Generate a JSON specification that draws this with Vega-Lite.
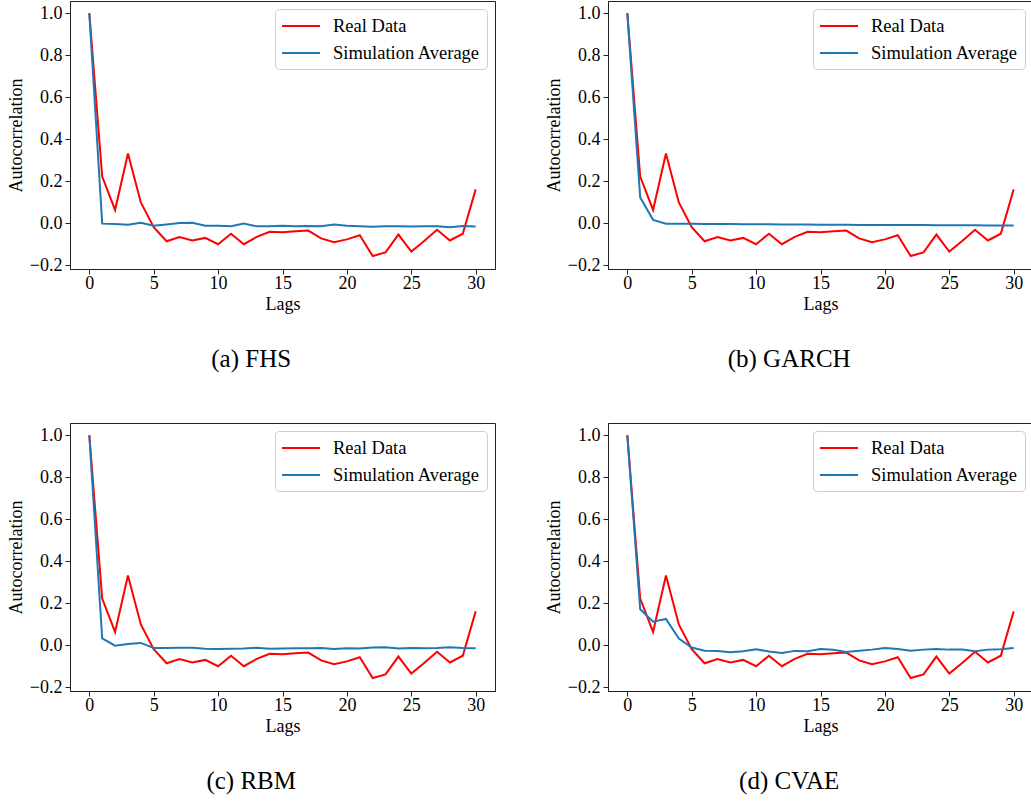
{
  "$schema": "https://vega.github.io/schema/vega-lite/v6.json",
  "padding": {"left": 6, "top": 0, "right": 0, "bottom": 0},
  "background": "white",
  "datasets": {
    "real": [
      {"lag": 0, "value": 1.0}, {"lag": 1, "value": 0.222}, {"lag": 2, "value": 0.063}, {"lag": 3, "value": 0.332},
      {"lag": 4, "value": 0.099}, {"lag": 5, "value": -0.019}, {"lag": 6, "value": -0.086}, {"lag": 7, "value": -0.066},
      {"lag": 8, "value": -0.082}, {"lag": 9, "value": -0.070}, {"lag": 10, "value": -0.100}, {"lag": 11, "value": -0.050},
      {"lag": 12, "value": -0.100}, {"lag": 13, "value": -0.065}, {"lag": 14, "value": -0.041}, {"lag": 15, "value": -0.043},
      {"lag": 16, "value": -0.038}, {"lag": 17, "value": -0.035}, {"lag": 18, "value": -0.072}, {"lag": 19, "value": -0.091},
      {"lag": 20, "value": -0.077}, {"lag": 21, "value": -0.057}, {"lag": 22, "value": -0.156}, {"lag": 23, "value": -0.139},
      {"lag": 24, "value": -0.054}, {"lag": 25, "value": -0.135}, {"lag": 26, "value": -0.085}, {"lag": 27, "value": -0.031},
      {"lag": 28, "value": -0.082}, {"lag": 29, "value": -0.050}, {"lag": 30, "value": 0.161}
    ],
    "sim": [
      {"panel": "FHS", "lag": 0, "value": 1.0}, {"panel": "FHS", "lag": 1, "value": -0.002}, {"panel": "FHS", "lag": 2, "value": -0.004},
      {"panel": "FHS", "lag": 3, "value": -0.007}, {"panel": "FHS", "lag": 4, "value": 0.002}, {"panel": "FHS", "lag": 5, "value": -0.012},
      {"panel": "FHS", "lag": 6, "value": -0.006}, {"panel": "FHS", "lag": 7, "value": 0.001}, {"panel": "FHS", "lag": 8, "value": 0.002},
      {"panel": "FHS", "lag": 9, "value": -0.012}, {"panel": "FHS", "lag": 10, "value": -0.012}, {"panel": "FHS", "lag": 11, "value": -0.014},
      {"panel": "FHS", "lag": 12, "value": -0.002}, {"panel": "FHS", "lag": 13, "value": -0.015}, {"panel": "FHS", "lag": 14, "value": -0.014},
      {"panel": "FHS", "lag": 15, "value": -0.012}, {"panel": "FHS", "lag": 16, "value": -0.015}, {"panel": "FHS", "lag": 17, "value": -0.013},
      {"panel": "FHS", "lag": 18, "value": -0.014}, {"panel": "FHS", "lag": 19, "value": -0.006}, {"panel": "FHS", "lag": 20, "value": -0.012},
      {"panel": "FHS", "lag": 21, "value": -0.014}, {"panel": "FHS", "lag": 22, "value": -0.017}, {"panel": "FHS", "lag": 23, "value": -0.015},
      {"panel": "FHS", "lag": 24, "value": -0.015}, {"panel": "FHS", "lag": 25, "value": -0.016}, {"panel": "FHS", "lag": 26, "value": -0.015},
      {"panel": "FHS", "lag": 27, "value": -0.015}, {"panel": "FHS", "lag": 28, "value": -0.019}, {"panel": "FHS", "lag": 29, "value": -0.013},
      {"panel": "FHS", "lag": 30, "value": -0.016},

      {"panel": "GARCH", "lag": 0, "value": 1.0}, {"panel": "GARCH", "lag": 1, "value": 0.123}, {"panel": "GARCH", "lag": 2, "value": 0.016},
      {"panel": "GARCH", "lag": 3, "value": -0.002}, {"panel": "GARCH", "lag": 4, "value": -0.003}, {"panel": "GARCH", "lag": 5, "value": -0.003},
      {"panel": "GARCH", "lag": 6, "value": -0.004}, {"panel": "GARCH", "lag": 7, "value": -0.004}, {"panel": "GARCH", "lag": 8, "value": -0.004},
      {"panel": "GARCH", "lag": 9, "value": -0.005}, {"panel": "GARCH", "lag": 10, "value": -0.005}, {"panel": "GARCH", "lag": 11, "value": -0.005},
      {"panel": "GARCH", "lag": 12, "value": -0.006}, {"panel": "GARCH", "lag": 13, "value": -0.006}, {"panel": "GARCH", "lag": 14, "value": -0.006},
      {"panel": "GARCH", "lag": 15, "value": -0.007}, {"panel": "GARCH", "lag": 16, "value": -0.007}, {"panel": "GARCH", "lag": 17, "value": -0.007},
      {"panel": "GARCH", "lag": 18, "value": -0.008}, {"panel": "GARCH", "lag": 19, "value": -0.008}, {"panel": "GARCH", "lag": 20, "value": -0.008},
      {"panel": "GARCH", "lag": 21, "value": -0.009}, {"panel": "GARCH", "lag": 22, "value": -0.009}, {"panel": "GARCH", "lag": 23, "value": -0.009},
      {"panel": "GARCH", "lag": 24, "value": -0.010}, {"panel": "GARCH", "lag": 25, "value": -0.010}, {"panel": "GARCH", "lag": 26, "value": -0.010},
      {"panel": "GARCH", "lag": 27, "value": -0.010}, {"panel": "GARCH", "lag": 28, "value": -0.011}, {"panel": "GARCH", "lag": 29, "value": -0.011},
      {"panel": "GARCH", "lag": 30, "value": -0.011},

      {"panel": "RBM", "lag": 0, "value": 1.0}, {"panel": "RBM", "lag": 1, "value": 0.032}, {"panel": "RBM", "lag": 2, "value": -0.002},
      {"panel": "RBM", "lag": 3, "value": 0.006}, {"panel": "RBM", "lag": 4, "value": 0.011}, {"panel": "RBM", "lag": 5, "value": -0.013},
      {"panel": "RBM", "lag": 6, "value": -0.013}, {"panel": "RBM", "lag": 7, "value": -0.012}, {"panel": "RBM", "lag": 8, "value": -0.012},
      {"panel": "RBM", "lag": 9, "value": -0.017}, {"panel": "RBM", "lag": 10, "value": -0.018}, {"panel": "RBM", "lag": 11, "value": -0.017},
      {"panel": "RBM", "lag": 12, "value": -0.016}, {"panel": "RBM", "lag": 13, "value": -0.012}, {"panel": "RBM", "lag": 14, "value": -0.017},
      {"panel": "RBM", "lag": 15, "value": -0.016}, {"panel": "RBM", "lag": 16, "value": -0.015}, {"panel": "RBM", "lag": 17, "value": -0.014},
      {"panel": "RBM", "lag": 18, "value": -0.013}, {"panel": "RBM", "lag": 19, "value": -0.018}, {"panel": "RBM", "lag": 20, "value": -0.014},
      {"panel": "RBM", "lag": 21, "value": -0.016}, {"panel": "RBM", "lag": 22, "value": -0.011}, {"panel": "RBM", "lag": 23, "value": -0.010},
      {"panel": "RBM", "lag": 24, "value": -0.016}, {"panel": "RBM", "lag": 25, "value": -0.013}, {"panel": "RBM", "lag": 26, "value": -0.014},
      {"panel": "RBM", "lag": 27, "value": -0.013}, {"panel": "RBM", "lag": 28, "value": -0.010}, {"panel": "RBM", "lag": 29, "value": -0.013},
      {"panel": "RBM", "lag": 30, "value": -0.014},

      {"panel": "CVAE", "lag": 0, "value": 1.0}, {"panel": "CVAE", "lag": 1, "value": 0.171}, {"panel": "CVAE", "lag": 2, "value": 0.112},
      {"panel": "CVAE", "lag": 3, "value": 0.125}, {"panel": "CVAE", "lag": 4, "value": 0.032}, {"panel": "CVAE", "lag": 5, "value": -0.011},
      {"panel": "CVAE", "lag": 6, "value": -0.026}, {"panel": "CVAE", "lag": 7, "value": -0.027}, {"panel": "CVAE", "lag": 8, "value": -0.034},
      {"panel": "CVAE", "lag": 9, "value": -0.029}, {"panel": "CVAE", "lag": 10, "value": -0.019}, {"panel": "CVAE", "lag": 11, "value": -0.030},
      {"panel": "CVAE", "lag": 12, "value": -0.037}, {"panel": "CVAE", "lag": 13, "value": -0.027}, {"panel": "CVAE", "lag": 14, "value": -0.029},
      {"panel": "CVAE", "lag": 15, "value": -0.018}, {"panel": "CVAE", "lag": 16, "value": -0.022}, {"panel": "CVAE", "lag": 17, "value": -0.032},
      {"panel": "CVAE", "lag": 18, "value": -0.026}, {"panel": "CVAE", "lag": 19, "value": -0.021}, {"panel": "CVAE", "lag": 20, "value": -0.013},
      {"panel": "CVAE", "lag": 21, "value": -0.018}, {"panel": "CVAE", "lag": 22, "value": -0.026}, {"panel": "CVAE", "lag": 23, "value": -0.021},
      {"panel": "CVAE", "lag": 24, "value": -0.018}, {"panel": "CVAE", "lag": 25, "value": -0.021}, {"panel": "CVAE", "lag": 26, "value": -0.021},
      {"panel": "CVAE", "lag": 27, "value": -0.029}, {"panel": "CVAE", "lag": 28, "value": -0.021}, {"panel": "CVAE", "lag": 29, "value": -0.019},
      {"panel": "CVAE", "lag": 30, "value": -0.013}
    ]
  },
  "config": {
    "font": "Liberation Serif",
    "view": {"stroke": "#222", "strokeWidth": 1},
    "axis": {
      "grid": false, "labelFontSize": 18, "titleFontSize": 18, "titleFontWeight": "normal",
      "labelColor": "#000", "titleColor": "#000", "domainColor": "#222", "tickColor": "#222",
      "tickSize": 5, "labelPadding": 3
    },
    "axisX": {"titlePadding": 3, "labelPadding": 0},
    "axisY": {"titlePadding": 4},
    "legend": {
      "orient": "top-right", "offset": 8, "title": null, "strokeColor": "#ccc", "fillColor": "white",
      "cornerRadius": 4, "padding": 6, "labelFontSize": 18.5, "labelColor": "#000", "symbolType": "M-1.9,0H1.9",
      "symbolSize": 400, "symbolStrokeWidth": 2, "symbolOffset": 9, "labelOffset": 21, "rowPadding": 6
    },
    "title": {"font": "Liberation Serif", "fontSize": 25, "fontWeight": "normal", "color": "#000", "orient": "bottom", "anchor": "middle", "frame": "bounds", "offset": 34}
  },
  "vconcat": [
    {
      "hconcat": [
        {
          "title": "(a) FHS", "width": 425, "height": 268,
          "layer": [
            {"data": {"name": "real"}, "transform": [{"calculate": "'Real Data'", "as": "series"}], "mark": {"type": "line", "strokeWidth": 2, "clip": true},
             "encoding": {"x": {"field": "lag", "type": "quantitative", "scale": {"domain": [-1.5, 31.5], "nice": false, "zero": false}, "axis": {"values": [0,5,10,15,20,25,30], "title": "Lags"}},
                          "y": {"field": "value", "type": "quantitative", "scale": {"domain": [-0.218, 1.058], "nice": false, "zero": false}, "axis": {"values": [-0.2,0,0.2,0.4,0.6,0.8,1.0], "format": ".1f", "title": "Autocorrelation"}},
                          "color": {"field": "series", "type": "nominal", "scale": {"domain": ["Real Data", "Simulation Average"], "range": ["#ff0000", "#1f77b4"]}}}},
            {"data": {"name": "sim"}, "transform": [{"filter": "datum.panel === 'FHS'"}, {"calculate": "'Simulation Average'", "as": "series"}], "mark": {"type": "line", "strokeWidth": 2, "clip": true},
             "encoding": {"x": {"field": "lag", "type": "quantitative"}, "y": {"field": "value", "type": "quantitative"},
                          "color": {"field": "series", "type": "nominal"}}}
          ]
        },
        {
          "title": "(b) GARCH", "width": 425, "height": 268,
          "layer": [
            {"data": {"name": "real"}, "transform": [{"calculate": "'Real Data'", "as": "series"}], "mark": {"type": "line", "strokeWidth": 2, "clip": true},
             "encoding": {"x": {"field": "lag", "type": "quantitative", "scale": {"domain": [-1.5, 31.5], "nice": false, "zero": false}, "axis": {"values": [0,5,10,15,20,25,30], "title": "Lags"}},
                          "y": {"field": "value", "type": "quantitative", "scale": {"domain": [-0.218, 1.058], "nice": false, "zero": false}, "axis": {"values": [-0.2,0,0.2,0.4,0.6,0.8,1.0], "format": ".1f", "title": "Autocorrelation"}},
                          "color": {"field": "series", "type": "nominal", "scale": {"domain": ["Real Data", "Simulation Average"], "range": ["#ff0000", "#1f77b4"]}}}},
            {"data": {"name": "sim"}, "transform": [{"filter": "datum.panel === 'GARCH'"}, {"calculate": "'Simulation Average'", "as": "series"}], "mark": {"type": "line", "strokeWidth": 2, "clip": true},
             "encoding": {"x": {"field": "lag", "type": "quantitative"}, "y": {"field": "value", "type": "quantitative"},
                          "color": {"field": "series", "type": "nominal"}}}
          ]
        }
      ],
      "spacing": 48,
      "resolve": {"scale": {"color": "independent"}, "legend": {"color": "independent"}}
    },
    {
      "hconcat": [
        {
          "title": "(c) RBM", "width": 425, "height": 268,
          "layer": [
            {"data": {"name": "real"}, "transform": [{"calculate": "'Real Data'", "as": "series"}], "mark": {"type": "line", "strokeWidth": 2, "clip": true},
             "encoding": {"x": {"field": "lag", "type": "quantitative", "scale": {"domain": [-1.5, 31.5], "nice": false, "zero": false}, "axis": {"values": [0,5,10,15,20,25,30], "title": "Lags"}},
                          "y": {"field": "value", "type": "quantitative", "scale": {"domain": [-0.218, 1.058], "nice": false, "zero": false}, "axis": {"values": [-0.2,0,0.2,0.4,0.6,0.8,1.0], "format": ".1f", "title": "Autocorrelation"}},
                          "color": {"field": "series", "type": "nominal", "scale": {"domain": ["Real Data", "Simulation Average"], "range": ["#ff0000", "#1f77b4"]}}}},
            {"data": {"name": "sim"}, "transform": [{"filter": "datum.panel === 'RBM'"}, {"calculate": "'Simulation Average'", "as": "series"}], "mark": {"type": "line", "strokeWidth": 2, "clip": true},
             "encoding": {"x": {"field": "lag", "type": "quantitative"}, "y": {"field": "value", "type": "quantitative"},
                          "color": {"field": "series", "type": "nominal"}}}
          ]
        },
        {
          "title": "(d) CVAE", "width": 425, "height": 268,
          "layer": [
            {"data": {"name": "real"}, "transform": [{"calculate": "'Real Data'", "as": "series"}], "mark": {"type": "line", "strokeWidth": 2, "clip": true},
             "encoding": {"x": {"field": "lag", "type": "quantitative", "scale": {"domain": [-1.5, 31.5], "nice": false, "zero": false}, "axis": {"values": [0,5,10,15,20,25,30], "title": "Lags"}},
                          "y": {"field": "value", "type": "quantitative", "scale": {"domain": [-0.218, 1.058], "nice": false, "zero": false}, "axis": {"values": [-0.2,0,0.2,0.4,0.6,0.8,1.0], "format": ".1f", "title": "Autocorrelation"}},
                          "color": {"field": "series", "type": "nominal", "scale": {"domain": ["Real Data", "Simulation Average"], "range": ["#ff0000", "#1f77b4"]}}}},
            {"data": {"name": "sim"}, "transform": [{"filter": "datum.panel === 'CVAE'"}, {"calculate": "'Simulation Average'", "as": "series"}], "mark": {"type": "line", "strokeWidth": 2, "clip": true},
             "encoding": {"x": {"field": "lag", "type": "quantitative"}, "y": {"field": "value", "type": "quantitative"},
                          "color": {"field": "series", "type": "nominal"}}}
          ]
        }
      ],
      "spacing": 48,
      "resolve": {"scale": {"color": "independent"}, "legend": {"color": "independent"}}
    }
  ],
  "spacing": 49,
  "resolve": {"scale": {"color": "independent"}, "legend": {"color": "independent"}}
}
